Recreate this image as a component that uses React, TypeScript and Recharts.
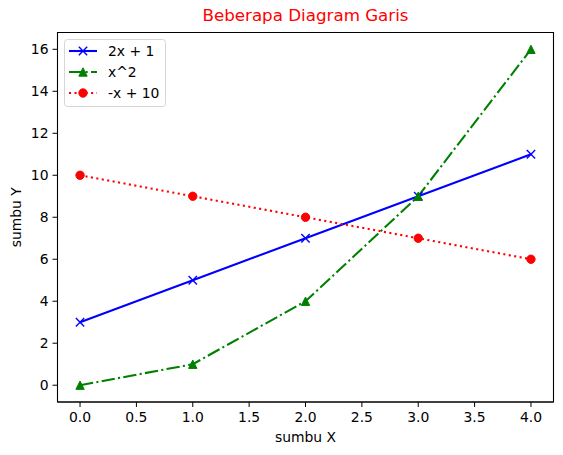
import { LineChart, Line, XAxis, YAxis, ReferenceArea, Legend } from 'recharts'

const X_VALUES = [0, 1, 2, 3, 4]
const LINEAR = [3, 5, 7, 9, 11]
const SQUARE = [0, 1, 4, 9, 16]
const DECREASING = [10, 9, 8, 7, 6]

const X_TICKS = [0, 0.5, 1, 1.5, 2, 2.5, 3, 3.5, 4]
const Y_TICKS = [0, 2, 4, 6, 8, 10, 12, 14, 16]

const FONT = '"DejaVu Sans", sans-serif'
const LW = 2.08
const MS = 4.17

const data = X_VALUES.map((x, i) => ({
  x,
  linear: LINEAR[i],
  square: SQUARE[i],
  decreasing: DECREASING[i],
}))

type Marker = 'x' | 'triangle' | 'circle'

function drawMarker(kind: Marker, cx: number, cy: number, color: string, key?: string | number) {
  if (kind === 'x') {
    return (
      <g key={key}>
        <line x1={cx - MS} y1={cy - MS} x2={cx + MS} y2={cy + MS} stroke={color} strokeWidth={1.4} />
        <line x1={cx - MS} y1={cy + MS} x2={cx + MS} y2={cy - MS} stroke={color} strokeWidth={1.4} />
      </g>
    )
  }
  if (kind === 'triangle') {
    return (
      <path
        key={key}
        d={`M${cx},${cy - MS} L${cx - MS},${cy + MS} L${cx + MS},${cy + MS} Z`}
        fill={color}
        stroke={color}
        strokeWidth={1}
      />
    )
  }
  return <circle key={key} cx={cx} cy={cy} r={MS} fill={color} stroke={color} strokeWidth={1} />
}

const SERIES = [
  { key: 'linear', name: '2x + 1', color: '#0000ff', dash: undefined, marker: 'x' as Marker },
  { key: 'square', name: 'x^2', color: '#008000', dash: '13.3 3.3 2.1 3.3', marker: 'triangle' as Marker },
  { key: 'decreasing', name: '-x + 10', color: '#ff0000', dash: '2.08 3.44', marker: 'circle' as Marker },
]

function LegendBox() {
  return (
    <svg width={102} height={68} style={{ display: 'block', overflow: 'visible' }}>
      <rect x={0.5} y={0.5} width={101} height={67} rx={3} fill="#fff" fillOpacity={0.8} stroke="#d6d6d6" />
      {SERIES.map((s, i) => {
        const cy = 12 + i * 21
        return (
          <g key={s.key}>
            <line x1={5} y1={cy} x2={33} y2={cy} stroke={s.color} strokeWidth={LW} strokeDasharray={s.dash} />
            {drawMarker(s.marker, 19, cy, s.color)}
            <text x={44} y={cy + 5} fontSize={13.9} fontFamily={FONT} fill="#000">
              {s.name}
            </text>
          </g>
        )
      })}
    </svg>
  )
}

export default function App() {
  return (
    <div style={{ position: 'absolute', left: 0, top: 0, width: 563, height: 455, background: '#fff' }}>
      <div
        style={{
          position: 'absolute',
          left: 57.5,
          width: 496,
          top: 5,
          textAlign: 'center',
          fontFamily: FONT,
          fontSize: 16.7,
          color: '#ff0000',
        }}
      >
        Beberapa Diagram Garis
      </div>
      <LineChart width={563} height={455} data={data} margin={{ top: 32.5, right: 9.5, bottom: 9, left: 0 }}>
        <XAxis
          dataKey="x"
          type="number"
          domain={[-0.2, 4.2]}
          allowDataOverflow
          ticks={X_TICKS}
          tickFormatter={(v: number) => v.toFixed(1)}
          height={44}
          tickSize={5}
          tickMargin={5}
          stroke="#000"
          tick={{ fill: '#000', fontSize: 13.9, fontFamily: FONT }}
          label={(props: any) => {
            const vb = props.viewBox
            return (
              <text x={vb.x + vb.width / 2} y={442} textAnchor="middle" fontSize={13.9} fontFamily={FONT} fill="#000">
                sumbu X
              </text>
            )
          }}
        />
        <YAxis
          type="number"
          domain={[-0.8, 16.8]}
          allowDataOverflow
          ticks={Y_TICKS}
          width={57.5}
          tickSize={5}
          tickMargin={4}
          stroke="#000"
          tick={{ fill: '#000', fontSize: 13.9, fontFamily: FONT }}
          label={(props: any) => {
            const vb = props.viewBox
            const cy = vb.y + vb.height / 2
            return (
              <text
                x={21}
                y={cy}
                transform={`rotate(-90 21 ${cy})`}
                textAnchor="middle"
                fontSize={13.9}
                fontFamily={FONT}
                fill="#000"
              >
                sumbu Y
              </text>
            )
          }}
        />
        <ReferenceArea x1={-0.2} x2={4.2} y1={-0.8} y2={16.8} fill="none" stroke="#000" strokeWidth={1.1} ifOverflow="visible" />
        {SERIES.map((s) => (
          <Line
            key={s.key}
            dataKey={s.key}
            name={s.name}
            stroke={s.color}
            strokeWidth={LW}
            strokeDasharray={s.dash}
            isAnimationActive={false}
            activeDot={false}
            dot={(p: any) => drawMarker(s.marker, p.cx, p.cy, s.color, p.index)}
          />
        ))}
        <Legend
          layout="vertical"
          align="center"
          verticalAlign="middle"
          wrapperStyle={{ left: 64, top: 39, width: 102 }}
          content={() => <LegendBox />}
        />
      </LineChart>
    </div>
  )
}
